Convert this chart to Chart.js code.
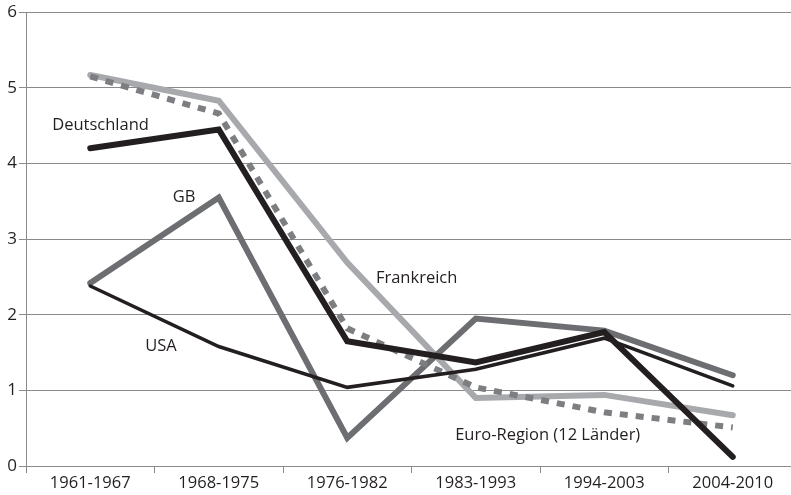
<!DOCTYPE html>
<html>
<head>
<meta charset="utf-8">
<script src="https://cdn.jsdelivr.net/npm/chart.js@4/dist/chart.umd.min.js"></script>
<style>
  html, body { margin: 0; padding: 0; background: #fff; overflow: hidden; }
  #wrap { width: 791px; height: 495px; overflow: hidden; }
</style>
</head>
<body>
<div id="wrap"><canvas id="chart" width="797" height="495"></canvas></div>
<script>
// categories and series
const periods = ['1961-1967', '1968-1975', '1976-1982', '1983-1993', '1994-2003', '2004-2010'];
const deutschland = [4.2, 4.45, 1.65, 1.37, 1.77, 0.12];
const usa = [2.38, 1.58, 1.04, 1.28, 1.69, 1.06];
const euroRegion = [5.15, 4.66, 1.82, 1.04, 0.71, 0.51];
const frankreich = [5.17, 4.83, 2.69, 0.9, 0.94, 0.67];
const gb = [2.42, 3.55, 0.37, 1.95, 1.79, 1.2];

// series name labels, anchored in data coordinates (category index, value)
const seriesLabels = [
    { text: 'Deutschland', at: 0.08, value: 4.5 },
    { text: 'GB', at: 0.73, value: 3.55 },
    { text: 'Frankreich', at: 2.54, value: 2.48 },
    { text: 'USA', at: 0.55, value: 1.58 },
    { text: 'Euro-Region (12 Länder)', at: 3.56, value: 0.41 }
];

const fontFamily = '"Open Sans", "Noto Sans", sans-serif';
const textColor = '#231f20';
const axisColor = '#8a8a8a';

const labelPlugin = {
    id: 'seriesLabels',
    afterDatasetsDraw(chart) {
        const ctx = chart.ctx;
        const x = chart.scales.x;
        const y = chart.scales.y;
        ctx.save();
        ctx.font = '16.5px ' + fontFamily;
        ctx.fillStyle = textColor;
        ctx.textAlign = 'center';
        ctx.textBaseline = 'middle';
        seriesLabels.forEach(l => {
            ctx.fillText(l.text, x.getPixelForValue(l.at), y.getPixelForValue(l.value));
        });
        ctx.restore();
    }
};

function lineSet(label, data, color, width, dash) {
    return {
        label: label,
        data: data,
        borderColor: color,
        borderWidth: width,
        borderDash: dash || [],
        borderCapStyle: dash ? 'butt' : 'round',
        borderJoinStyle: 'miter',
        pointRadius: 0,
        tension: 0,
        fill: false
    };
}

new Chart(document.getElementById('chart').getContext('2d'), {
    type: 'line',
    data: {
        labels: periods,
        datasets: [
            lineSet('Deutschland', deutschland, '#231f20', 6),
            lineSet('USA', usa, '#231f20', 3.5),
            lineSet('Euro-Region (12 Länder)', euroRegion, '#7d7e81', 6, [8, 8]),
            lineSet('GB', gb, '#6d6e71', 6),
            lineSet('Frankreich', frankreich, '#a7a9ac', 6)
        ]
    },
    options: {
        responsive: false,
        animation: false,
        layout: {
            padding: { top: 11, right: 0, left: 0, bottom: 0 }
        },
        plugins: {
            legend: { display: false },
            tooltip: { enabled: false }
        },
        scales: {
            x: {
                offset: true,
                grid: {
                    offset: true,
                    drawOnChartArea: false,
                    drawTicks: true,
                    tickLength: 7,
                    color: axisColor
                },
                border: { display: true, color: axisColor, width: 1 },
                ticks: {
                    color: textColor,
                    font: { family: fontFamily, size: 16.5 },
                    padding: 0,
                    maxRotation: 0
                },
                afterFit(scale) { scale.height = 29; }
            },
            y: {
                min: 0,
                max: 6,
                ticks: {
                    stepSize: 1,
                    color: textColor,
                    font: { family: fontFamily, size: 17 },
                    padding: 2
                },
                grid: {
                    color: axisColor,
                    tickLength: 7
                },
                border: { display: true, color: axisColor, width: 1 },
                afterFit(scale) { scale.width = 26; }
            }
        }
    },
    plugins: [labelPlugin]
});
</script>
</body>
</html>
